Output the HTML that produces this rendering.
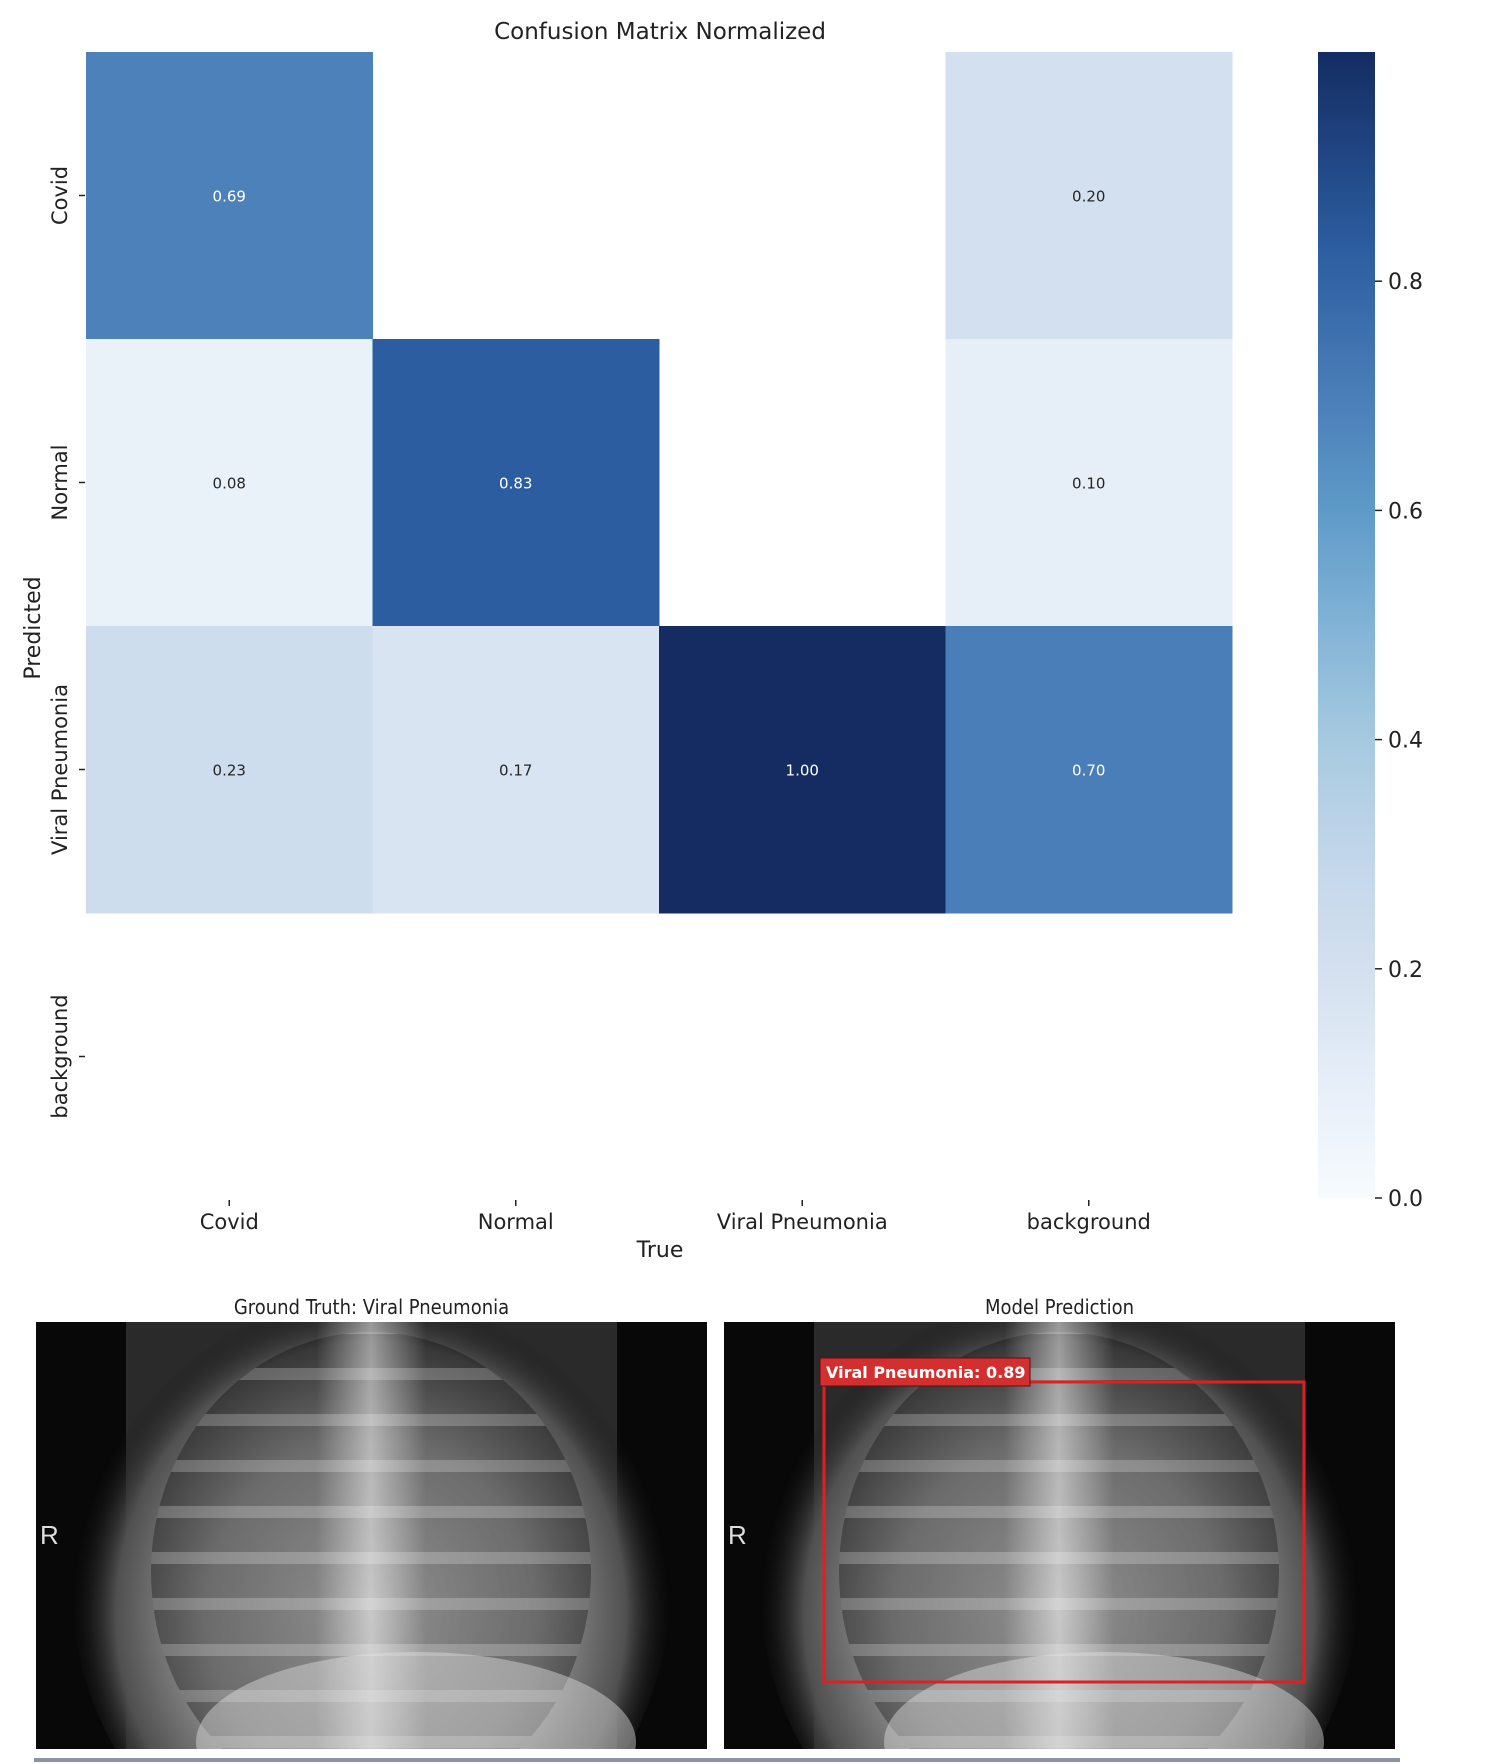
<!DOCTYPE html>
<html><head><meta charset="utf-8"><style>
html,body{margin:0;padding:0;background:#fff;overflow:hidden;}
body{width:1502px;height:1764px;overflow:hidden;position:relative;font-family:"DejaVu Sans","Liberation Sans",sans-serif;}
</style></head><body>
<svg id="chart" width="1502" height="1290" style="position:absolute;left:0;top:0" xmlns="http://www.w3.org/2000/svg">
<defs>
<linearGradient id="cbar" x1="0" y1="1" x2="0" y2="0">
<stop offset="0" stop-color="#f7fbff"/><stop offset="0.1" stop-color="#e6eef8"/><stop offset="0.2" stop-color="#d3e0ef"/><stop offset="0.3" stop-color="#c2d6ea"/><stop offset="0.4" stop-color="#a6c9e0"/><stop offset="0.5" stop-color="#82b3d6"/><stop offset="0.6" stop-color="#5e9ac8"/><stop offset="0.7" stop-color="#4a7eb8"/><stop offset="0.83" stop-color="#2c5da0"/><stop offset="1" stop-color="#142c62"/>
</linearGradient>
</defs>
<text x="660" y="39" font-size="23" text-anchor="middle" fill="#222">Confusion Matrix Normalized</text>
<g id="cells"></g>
<g id="axes"></g>
<rect x="1318" y="52" width="57" height="1146" fill="url(#cbar)"/>
<g id="cbticks"></g>
<text x="660" y="1257" font-size="22" text-anchor="middle" fill="#222">True</text>
<text transform="translate(40,628) rotate(-90)" font-size="22" text-anchor="middle" fill="#222">Predicted</text>
</svg>

<div style="position:absolute;left:36px;width:671px;top:1295px;text-align:center;font-size:20px;color:#222;font-family:'Liberation Sans Narrow','DejaVu Sans Condensed',sans-serif;">Ground Truth: Viral Pneumonia</div>
<div style="position:absolute;left:724px;width:671px;top:1295px;text-align:center;font-size:20px;color:#222;font-family:'Liberation Sans Narrow','DejaVu Sans Condensed',sans-serif;">Model Prediction</div>

<svg width="1502" height="440" style="position:absolute;left:0;top:1322px" xmlns="http://www.w3.org/2000/svg">
<defs>
<clipPath id="panel"><rect width="671" height="427"/></clipPath>
<radialGradient id="chest" cx="0.5" cy="0.55" r="0.5">
<stop offset="0" stop-color="#d0d0d0"/><stop offset="0.55" stop-color="#9a9a9a"/><stop offset="0.85" stop-color="#505050"/><stop offset="1" stop-color="#151515" stop-opacity="0"/>
</radialGradient>
<linearGradient id="spine" x1="0" x2="1">
<stop offset="0" stop-color="#fff" stop-opacity="0"/><stop offset="0.5" stop-color="#fff" stop-opacity="0.5"/><stop offset="1" stop-color="#fff" stop-opacity="0"/>
</linearGradient>
<pattern id="ribs" width="40" height="46" patternUnits="userSpaceOnUse">
<rect width="40" height="46" fill="#000" fill-opacity="0.3"/><rect y="0" width="40" height="12" fill="#fff" fill-opacity="0.22"/>
</pattern>
<g id="xray">
<g clip-path="url(#panel)">
<rect width="671" height="427" fill="#080808"/>
<rect x="90" width="491" height="427" fill="#2a2a2a"/>
<ellipse cx="335" cy="260" rx="300" ry="320" fill="url(#chest)"/>
<ellipse cx="335" cy="250" rx="220" ry="240" fill="url(#ribs)"/>
<rect x="280" width="110" height="427" fill="url(#spine)"/>
<ellipse cx="380" cy="420" rx="220" ry="90" fill="#e0e0e0" fill-opacity="0.45"/>
<text x="4" y="222" font-size="26" fill="#ddd" font-family="Liberation Sans,sans-serif">R</text>
</g>
</g>
</defs>
<use href="#xray" x="36" y="0"/>
<use href="#xray" x="724" y="0"/>
<rect x="824" y="60" width="480" height="300" fill="none" stroke="#e02020" stroke-width="3"/>
<rect x="820" y="36" width="210" height="28" fill="#d32f2f" stroke="#5a1010" stroke-width="1"/>
<text x="826" y="56" font-size="16" font-weight="bold" fill="#fff">Viral Pneumonia: 0.89</text>
<rect x="34" y="436" width="1366" height="4" fill="#8a93a8"/>
</svg>

<script>
const categories = ["Covid","Normal","Viral Pneumonia","background"];
const rowCovid = [0.69, 0, 0, 0.20];
const rowNormal = [0.08, 0.83, 0, 0.10];
const rowViral = [0.23, 0.17, 1.00, 0.70];
const rowBackground = [0, 0, 0, 0];
const cbTicks = [0.0, 0.2, 0.4, 0.6, 0.8];
const matrix = [rowCovid,rowNormal,rowViral,rowBackground];

const NS="http://www.w3.org/2000/svg";
const X0=86, Y0=52, CW=286.5, CH=287, CB_TOP=52, CB_BOT=1198, VMAX=1.0;
const xPos=i=>X0+i*CW, yPos=i=>Y0+i*CH;
const cbY=v=>CB_BOT-(v/VMAX)*(CB_BOT-CB_TOP);
const cmapPos=[0,0.1,0.2,0.3,0.4,0.5,0.6,0.7,0.83,1];
const cmapHex=["#f7fbff","#e6eef8","#d3e0ef","#c2d6ea","#a6c9e0","#82b3d6","#5e9ac8","#4a7eb8","#2c5da0","#142c62"];
const stops=cmapHex.map(h=>[1,3,5].map(k=>parseInt(h.substr(k,2),16)));
function blues(v){v=Math.max(0,Math.min(1,v/VMAX));let i=0;while(i<cmapPos.length-2&&v>cmapPos[i+1])i++;const f=(v-cmapPos[i])/(cmapPos[i+1]-cmapPos[i]);const c=stops[i].map((a,k)=>Math.round(a+(stops[i+1][k]-a)*f));return `rgb(${c[0]},${c[1]},${c[2]})`;}
function mk(tag,attrs,parent){const e=document.createElementNS(NS,tag);for(const k in attrs)e.setAttribute(k,attrs[k]);parent.appendChild(e);return e;}
const cells=document.getElementById('cells'), axes=document.getElementById('axes'), cbt=document.getElementById('cbticks');
matrix.forEach((row,r)=>row.forEach((v,c)=>{
  if(v<=0.005) return;
  const rect=mk('rect',{x:xPos(c),y:yPos(r),width:CW+0.5,height:CH+0.5,fill:blues(v)},cells);
  
  
  const t=mk('text',{x:xPos(c)+CW/2,y:yPos(r)+CH/2+6,'font-size':15,'text-anchor':'middle',fill:v>0.5?'#fff':'#262626'},cells);
  t.textContent=v.toFixed(2);
  
  
}));
categories.forEach((n,i)=>{
  const cx=xPos(i)+CW/2;
  mk('line',{x1:cx,y1:1200,x2:cx,y2:1206,stroke:'#222','stroke-width':1.5},axes);
  const t=mk('text',{x:cx,y:1229,'font-size':21,'text-anchor':'middle',fill:'#222'},axes);
  t.textContent=n;
  
  
  const cy=yPos(i)+CH/2;
  mk('line',{x1:79,y1:cy,x2:85,y2:cy,stroke:'#222','stroke-width':1.5},axes);
  const ty=mk('text',{transform:`translate(67,${cy}) rotate(-90)`,'font-size':21,'text-anchor':'middle',fill:'#222'},axes);
  ty.textContent=n;
  
  
});
cbTicks.forEach(v=>{
  const y=cbY(v);
  mk('line',{x1:1375,y1:y,x2:1382,y2:y,stroke:'#222','stroke-width':1.5},cbt);
  const t=mk('text',{x:1388,y:y+8,'font-size':22,fill:'#222'},cbt);
  t.textContent=v.toFixed(1);
  
  
});
</script>
</body></html>
